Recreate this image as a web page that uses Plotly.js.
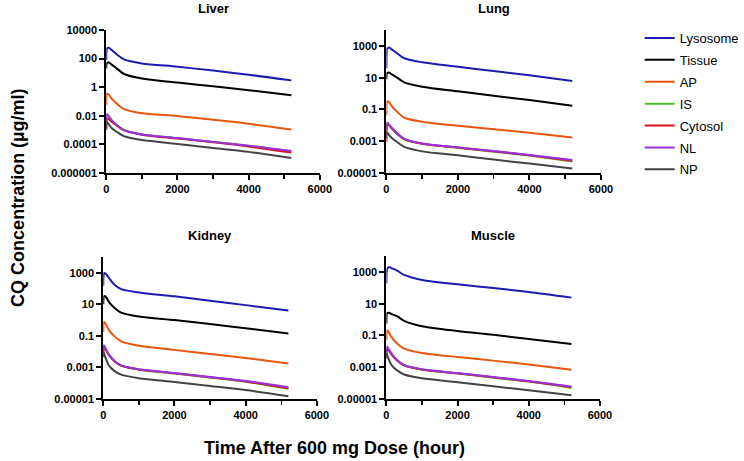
<!DOCTYPE html>
<html>
<head>
<meta charset="utf-8">
<script src="https://cdn.plot.ly/plotly-3.0.1.min.js"></script>
<style>
html,body{margin:0;padding:0;background:#fff;}
#chart{width:744px;height:461px;}
</style>
</head>
<body>
<div id="chart"></div>
<script>
// ---- data ----
const times = [0, 5, 20, 72, 150, 300, 500, 1000, 2000, 3000, 4000, 5200];
const compartments = ["Lysosome", "Tissue", "AP", "IS", "Cytosol", "NL", "NP"];
const organs = ["Liver", "Lung", "Kidney", "Muscle"];

// Liver
const liverLysosome = [80, 300, 500, 575, 400, 195, 87, 46, 27, 14.5, 7.5, 3.0];
const liverTissue   = [20, 40, 50, 54, 38, 20, 8.4, 4.1, 2.1, 1.15, 0.62, 0.27];
const liverAP       = [0.055, 0.25, 0.37, 0.3, 0.16, 0.07, 0.029, 0.015, 0.0098, 0.0052, 0.0028, 0.0011];
const liverIS       = [0.003, 0.009, 0.012, 0.009, 0.0048, 0.0022, 0.001, 0.0005, 0.00028, 0.00015, 0.00008, 0.000033];
const liverCytosol  = [0.0013, 0.005, 0.0065, 0.0058, 0.0038, 0.002, 0.00095, 0.00048, 0.00026, 0.00014, 0.000072, 0.000027];
const liverNL       = [0.004, 0.011, 0.013, 0.0095, 0.005, 0.0022, 0.001, 0.0005, 0.00028, 0.00015, 0.000082, 0.000034];
const liverNP       = [0.001, 0.003, 0.0037, 0.0025, 0.0014, 0.00074, 0.00037, 0.0002, 0.000107, 0.000056, 0.00003, 0.000011];

// Lung
const lungLysosome = [39, 300, 650, 790, 600, 345, 166, 93, 49, 26, 14, 6.2];
const lungTissue   = [8, 15, 19, 21, 16, 10, 5.1, 2.7, 1.38, 0.73, 0.39, 0.17];
const lungAP       = [0.044, 0.2, 0.32, 0.3, 0.16, 0.071, 0.03, 0.017, 0.0093, 0.0057, 0.0034, 0.0017];
const lungIS       = [0.004, 0.012, 0.015, 0.011, 0.0065, 0.003, 0.0013, 0.00068, 0.00038, 0.00022, 0.000125, 0.000052];
const lungCytosol  = [0.0009, 0.008, 0.011, 0.0105, 0.0065, 0.003, 0.00135, 0.0007, 0.0004, 0.00023, 0.00013, 0.000059];
const lungNL       = [0.004, 0.011, 0.014, 0.0115, 0.007, 0.0032, 0.0014, 0.00072, 0.00041, 0.00024, 0.000135, 0.000066];
const lungNP       = [0.0015, 0.003, 0.0035, 0.0025, 0.0016, 0.0009, 0.00044, 0.00023, 0.00013, 0.00007, 0.000039, 0.000019];

// Kidney
const kidneyLysosome = [150, 600, 950, 850, 500, 190, 92, 57, 32, 17, 8.9, 4];
const kidneyTissue   = [10, 25, 33, 30, 15, 6.4, 3, 1.7, 1.0, 0.56, 0.31, 0.14];
const kidneyAP       = [0.17, 0.6, 0.8, 0.55, 0.25, 0.1, 0.045, 0.024, 0.013, 0.0071, 0.004, 0.0018];
const kidneyIS       = [0.01, 0.022, 0.024, 0.014, 0.0065, 0.0027, 0.0013, 0.00072, 0.00041, 0.00023, 0.000125, 0.000044];
const kidneyCytosol  = [0.0044, 0.015, 0.02, 0.013, 0.0065, 0.0027, 0.0013, 0.00075, 0.00043, 0.00024, 0.00013, 0.00005];
const kidneyNL       = [0.01, 0.023, 0.025, 0.015, 0.007, 0.0028, 0.00135, 0.00077, 0.00044, 0.00025, 0.00014, 0.000055];
const kidneyNP       = [0.005, 0.009, 0.008, 0.0035, 0.0014, 0.00063, 0.00035, 0.00021, 0.00012, 0.000067, 0.000037, 0.000015];

// Muscle
const muscleLysosome = [190, 800, 1500, 2000, 1700, 1200, 645, 310, 165, 97, 54, 24];
const muscleTissue   = [0.56, 1.8, 2.5, 2.7, 2.2, 1.65, 0.83, 0.38, 0.19, 0.11, 0.06, 0.029];
const muscleAP       = [0.05, 0.15, 0.21, 0.15, 0.075, 0.031, 0.015, 0.0079, 0.0044, 0.0026, 0.0015, 0.0007];
const muscleIS       = [0.005, 0.014, 0.017, 0.012, 0.0065, 0.0027, 0.0013, 0.0007, 0.0004, 0.00022, 0.000125, 0.00005];
const muscleCytosol  = [0.0035, 0.01, 0.013, 0.011, 0.006, 0.0027, 0.0013, 0.00072, 0.00041, 0.00023, 0.00013, 0.000055];
const muscleNL       = [0.006, 0.017, 0.02, 0.013, 0.007, 0.0029, 0.00135, 0.00075, 0.00043, 0.00024, 0.000135, 0.00006];
const muscleNP       = [0.004, 0.007, 0.006, 0.003, 0.0013, 0.00063, 0.00035, 0.0002, 0.000115, 0.000064, 0.000035, 0.000017];

// tick labels
const xTickVals = [0, 2000, 4000, 6000];
const xTickText = ["0", "2000", "4000", "6000"];
const xMinorVals = [1000, 3000, 5000];
const liverYTickVals = [10000, 100, 1, 0.01, 0.0001, 0.000001];
const liverYTickText = ["10000", "100", "1", "0.01", "0.0001", "0.000001"];
const otherYTickVals = [1000, 10, 0.1, 0.001, 0.00001];
const otherYTickText = ["1000", "10", "0.1", "0.001", "0.00001"];

const yAxisTitle = "CQ Concentration (µg/ml)";
const xAxisTitle = "Time After 600 mg Dose (hour)";

// ---- styles ----
const colors = ["#1c1cb0", "#000000", "#e8560e", "#55b832", "#d6141c", "#9a32dc", "#444444"];

const organSeries = [
  [liverLysosome, liverTissue, liverAP, liverIS, liverCytosol, liverNL, liverNP],
  [lungLysosome, lungTissue, lungAP, lungIS, lungCytosol, lungNL, lungNP],
  [kidneyLysosome, kidneyTissue, kidneyAP, kidneyIS, kidneyCytosol, kidneyNL, kidneyNP],
  [muscleLysosome, muscleTissue, muscleAP, muscleIS, muscleCytosol, muscleNL, muscleNP]
];

const W = 744, H = 461;
// plot boxes in pixels [x0, x1, yTop, yBottom]
const boxes = [
  [107, 322, 30, 173],
  [389, 605, 30, 173],
  [104, 319, 257, 399],
  [389, 604, 256, 399]
];
const yRanges = [[-6, 4], [-5, 4], [-5, 4], [-5, 4]];

const traces = [];
organSeries.forEach((series, oi) => {
  const sfx = oi === 0 ? "" : String(oi + 1);
  series.forEach((vals, ci) => {
    traces.push({
      x: times, y: vals, type: "scatter", mode: "lines",
      name: compartments[ci],
      legendgroup: compartments[ci],
      showlegend: oi === 0,
      line: {color: colors[ci], width: 2, shape: "spline", smoothing: 0.8},
      xaxis: "x" + sfx, yaxis: "y" + sfx,
      hoverinfo: "skip"
    });
  });
});

const tickFont = {family: "Arial, Liberation Sans, sans-serif", size: 11, color: "#000", weight: "bold"};
const layout = {
  width: W, height: H,
  margin: {l: 0, r: 0, t: 0, b: 0},
  paper_bgcolor: "#fff", plot_bgcolor: "rgba(0,0,0,0)",
  showlegend: true,
  legend: {
    x: 644 / W, xanchor: "left", y: 1 - 23 / H, yanchor: "top",
    font: {family: "Arial, Liberation Sans, sans-serif", size: 13, color: "#000"},
    bgcolor: "rgba(0,0,0,0)", tracegroupgap: 2
  },
  annotations: []
};

boxes.forEach((b, i) => {
  const sfx = i === 0 ? "" : String(i + 1);
  layout["xaxis" + sfx] = {
    domain: [b[0] / W, b[1] / W],
    anchor: "y" + sfx,
    range: [0, 6000],
    tickmode: "array", tickvals: xTickVals, ticktext: xTickText,
    ticks: "outside", ticklen: 5, tickwidth: 2, tickcolor: "#000",
    minor: {tickmode: "array", tickvals: xMinorVals, ticks: "outside", ticklen: 4, tickwidth: 1.5, tickcolor: "#000"},
    showline: true, linewidth: 2, linecolor: "#000",
    showgrid: false, zeroline: false,
    tickfont: tickFont, fixedrange: true
  };
  layout["yaxis" + sfx] = {
    domain: [1 - b[3] / H, 1 - b[2] / H],
    anchor: "x" + sfx,
    type: "log",
    range: yRanges[i],
    tickmode: "array",
    tickvals: i === 0 ? liverYTickVals : otherYTickVals,
    ticktext: i === 0 ? liverYTickText : otherYTickText,
    ticks: "outside", ticklen: 5, tickwidth: 2, tickcolor: "#000",
    showline: true, linewidth: 2, linecolor: "#000",
    showgrid: false, zeroline: false,
    tickfont: tickFont, fixedrange: true
  };
  layout.annotations.push({
    text: organs[i], xref: "paper", yref: "paper",
    x: (b[0] + b[1]) / 2 / W, y: 1 - (i < 2 ? 8 : 235) / H,
    xanchor: "center", yanchor: "middle", showarrow: false,
    font: {family: "Arial, Liberation Sans, sans-serif", size: 13, color: "#000", weight: "bold"}
  });
});

layout.annotations.push({
  text: yAxisTitle, xref: "paper", yref: "paper",
  x: 18 / W, y: 1 - 198 / H, xanchor: "center", yanchor: "middle",
  textangle: -90, showarrow: false,
  font: {family: "Arial, Liberation Sans, sans-serif", size: 18, color: "#000", weight: "bold"}
});
layout.annotations.push({
  text: xAxisTitle, xref: "paper", yref: "paper",
  x: 337 / W, y: 1 - 448 / H, xanchor: "center", yanchor: "middle",
  showarrow: false,
  font: {family: "Arial, Liberation Sans, sans-serif", size: 18, color: "#000", weight: "bold"}
});

Plotly.newPlot("chart", traces, layout, {displayModeBar: false, staticPlot: true});
</script>
</body>
</html>
